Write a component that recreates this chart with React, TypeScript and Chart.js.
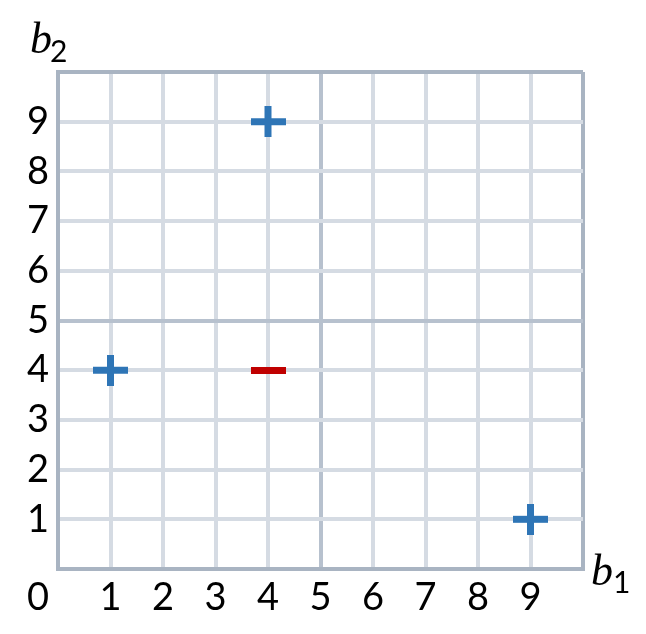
import React, { useEffect, useRef } from "react";
import { Chart, registerables } from "chart.js";

Chart.register(...registerables);

const plusX = [4, 1, 9];
const plusY = [9, 4, 1];
const minusX = [4];
const minusY = [4];
const tickValues = [1, 2, 3, 4, 5, 6, 7, 8, 9];
const originLabel = "0";
const xTitle = ["b", "1"];
const yTitle = ["b", "2"];

const BLUE = "#2e75b6";
const RED = "#c00000";
const GRID = "#d5dbe3";
const MID = "#b7c1ce";
const BORDER = "#a9b4c2";
const TICK_FONT = 38;

function makeCross(): HTMLCanvasElement {
  const c = document.createElement("canvas");
  c.width = 35;
  c.height = 31;
  const g = c.getContext("2d")!;
  g.fillStyle = BLUE;
  g.fillRect(0, 12, 35, 7);
  g.fillRect(14, 0, 7, 31);
  return c;
}
function makeDash(): HTMLCanvasElement {
  const c = document.createElement("canvas");
  c.width = 35;
  c.height = 7;
  const g = c.getContext("2d")!;
  g.fillStyle = RED;
  g.fillRect(0, 0, 35, 7);
  return c;
}

export default function App() {
  const ref = useRef<HTMLCanvasElement>(null);
  useEffect(() => {
    if (!ref.current) return;
    const cross = makeCross();
    const dash = makeDash();
    const labelsPlugin = {
      id: "labels",
      afterDraw(chart: any) {
        const ctx = chart.ctx;
        ctx.save();
        ctx.fillStyle = "#000";
        ctx.textBaseline = "middle";
        ctx.textAlign = "center";
        ctx.font = TICK_FONT + "px Lato";
        ctx.fillText(originLabel, 38, 598);
        // y title
        ctx.textAlign = "left";
        ctx.textBaseline = "alphabetic";
        ctx.font = "italic 44px 'Liberation Serif'";
        ctx.fillText(yTitle[0], 30, 53);
        ctx.font = "30px Lato";
        ctx.fillText(yTitle[1], 50, 62);
        // x title
        ctx.font = "italic 44px 'Liberation Serif'";
        ctx.fillText(xTitle[0], 591, 585);
        ctx.font = "30px Lato";
        ctx.fillText(xTitle[1], 613, 593);
        ctx.restore();
      },
    };
    const gridColor = (c: any) => {
      const v = c.tick ? c.tick.value : 0;
      if (v === 0 || v === 10) return BORDER;
      if (v === 5) return MID;
      return GRID;
    };
    const tickCb = (v: any) => (tickValues.includes(Number(v)) ? String(v) : "");
    const chart = new Chart(ref.current, {
      type: "scatter",
      data: {
        datasets: [
          {
            data: plusX.map((x, i) => ({ x, y: plusY[i] })),
            pointStyle: cross as any,
            pointRadius: 17,
            backgroundColor: BLUE,
            borderColor: BLUE,
          },
          {
            data: minusX.map((x, i) => ({ x, y: minusY[i] })),
            pointStyle: dash as any,
            pointRadius: 17,
            backgroundColor: RED,
            borderColor: RED,
          },
        ],
      },
      plugins: [labelsPlugin],
      options: {
        animation: false,
        responsive: false,
        maintainAspectRatio: false,
        events: [],
        layout: { padding: { top: 72, right: 63, left: 0, bottom: 0 } },
        plugins: { legend: { display: false }, tooltip: { enabled: false } },
        scales: {
          x: {
            type: "linear",
            min: 0,
            max: 10,
            afterFit: (s: any) => {
              s.height = 65;
            },
            ticks: {
              stepSize: 1,
              autoSkip: false,
              maxRotation: 0,
              callback: tickCb,
              color: "#000",
              font: { family: "Lato", size: TICK_FONT },
              padding: 6,
            },
            grid: { color: gridColor, lineWidth: 4, drawTicks: false },
            border: { display: true, color: BORDER, width: 4 },
          },
          y: {
            type: "linear",
            min: 0,
            max: 10,
            afterFit: (s: any) => {
              s.width = 58;
            },
            ticks: {
              stepSize: 1,
              autoSkip: false,
              callback: tickCb,
              color: "#000",
              font: { family: "Lato", size: TICK_FONT },
              padding: 9,
            },
            grid: { color: gridColor, lineWidth: 4, drawTicks: false },
            border: { display: true, color: BORDER, width: 4 },
          },
        },
      },
    } as any);
    return () => chart.destroy();
  }, []);
  return (
    <div style={{ position: "fixed", left: 0, top: 0, width: 646, height: 634, background: "#fff" }}>
      <canvas ref={ref} width={646} height={634} style={{ width: 646, height: 634, display: "block" }} />
    </div>
  );
}
